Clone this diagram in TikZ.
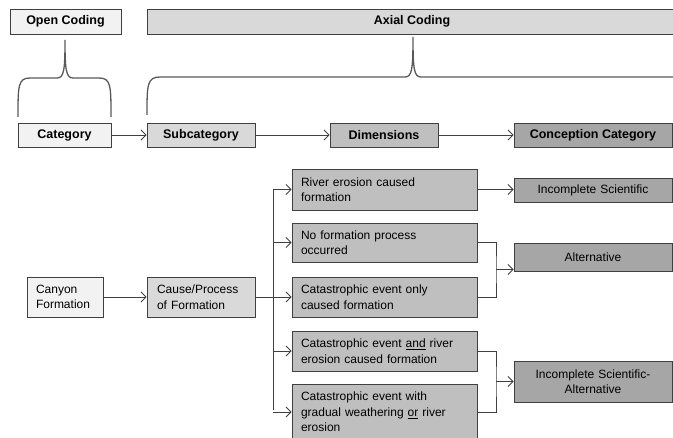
\documentclass[tikz,border=0pt]{standalone}
\usepackage{fontspec}
\setmainfont{Liberation Sans}
\usetikzlibrary{arrows.meta}
\definecolor{fillA}{HTML}{F2F2F2}
\definecolor{fillB}{HTML}{D9D9D9}
\definecolor{fillC}{HTML}{BFBFBF}
\definecolor{fillD}{HTML}{A6A6A6}
\definecolor{edgegray}{HTML}{404040}
\begin{document}
\begin{tikzpicture}[x=1pt,y=-1pt,
    every node/.style={font=\fontsize{12}{15.5}\selectfont},
    head/.style={draw=edgegray,line width=0.9pt,inner sep=0pt,minimum height=24pt,font=\bfseries\fontsize{12.5}{15}\selectfont},
    itembox/.style={draw=edgegray,line width=0.9pt,inner xsep=9pt,inner ysep=0pt,align=left},
    dimbox/.style={itembox,fill=fillC,text width=167pt},
    resbox/.style={itembox,fill=fillD,text width=140pt,align=center},
    link/.style={draw=edgegray,line width=0.9pt},
    arr/.style={link,-{Straight Barb[length=5pt,width=10pt]}},
    bracket/.style={draw=black!65,line width=1.3pt}]
    \clip (0,0) rectangle (673,438);
    % coding phases
    \node[head,fill=fillA,minimum width=111pt,minimum height=25pt] (open) at (65.5,21.5) {Open Coding};
    \node[head,fill=fillB,minimum width=530pt,minimum height=25pt] (axial) at (412,21.5) {Axial Coding};
    \draw[bracket] (18,117) .. controls (18,86) and (18,78) .. (30,78) -- (57,78)
        .. controls (64,78) and (65,70) .. (65,40) .. controls (65,70) and (66,78) .. (73,78)
        -- (99,78) .. controls (111,78) and (111,86) .. (111,117);
    \draw[bracket] (147,115) .. controls (147,85) and (147,77) .. (160,77) -- (405,77)
        .. controls (412,77) and (413,69) .. (413,37) .. controls (413,69) and (414,77) .. (421,77)
        -- (680,77);
    % header row
    \node[head,fill=fillA,minimum width=93pt] (cat) at (64.5,135) {Category};
    \node[head,fill=fillB,minimum width=108pt] (subcat) at (201,135) {Subcategory};
    \node[head,fill=fillC,minimum width=108pt] (dims) at (384,135) {Dimensions};
    \node[head,fill=fillD,minimum width=158pt] (concept) at (593,135) {Conception Category};
    \path[arr] (cat) edge (subcat) (subcat) edge (dims) (dims) edge (concept);
    % example
    \node[itembox,fill=fillA,text width=58pt,minimum height=40pt] (canyon) at (65,297) {Canyon\\Formation};
    \node[itembox,fill=fillB,text width=88pt,inner xsep=10pt,minimum height=40pt] (cause) at (201,297) {Cause/Process\\of Formation};
    \node[dimbox,minimum height=41pt] (d1) at (384.5,189.5) {River erosion caused\\formation};
    \node[dimbox,minimum height=39pt] (d2) at (384.5,242.5) {No formation process\\occurred};
    \node[dimbox,minimum height=40pt] (d3) at (384.5,297) {Catastrophic event only\\caused formation};
    \node[dimbox,minimum height=40pt] (d4) at (384.5,351) {Catastrophic event \underline{and} river\\erosion caused formation};
    \node[dimbox,minimum height=56pt] (d5) at (384.5,412) {Catastrophic event with\\gradual weathering \underline{or} river\\erosion};
    \node[resbox,minimum height=24pt] (r1) at (593,190) {Incomplete Scientific};
    \node[resbox,minimum height=28pt] (r2) at (593,257) {Alternative};
    \node[resbox,minimum height=41pt] (r3) at (593,381.5) {Incomplete Scientific-\\Alternative};
    \path[arr] (canyon) edge (cause);
    \coordinate (trunk) at (273,297);
    \draw[link] (cause) -- (trunk);
    \draw[link] (trunk |- d1.west) -- (trunk |- 0,410);
    \foreach \j in {1,...,5} \draw[arr] (trunk |- d\j.west) -- (d\j.west);
    \draw[arr] (d1.east) -- (d1.east -| r1.west);
    \coordinate (m1) at (496,269.5);
    \coordinate (m2) at (496,381.5);
    \draw[link] (d2.east) -| (m1) |- (d3.east);
    \draw[link] (d4.east) -| (m2) |- (d5.east);
    \draw[arr] (m1) -- (m1 -| r2.west);
    \draw[arr] (m2) -- (m2 -| r3.west);
\end{tikzpicture}
\end{document}
